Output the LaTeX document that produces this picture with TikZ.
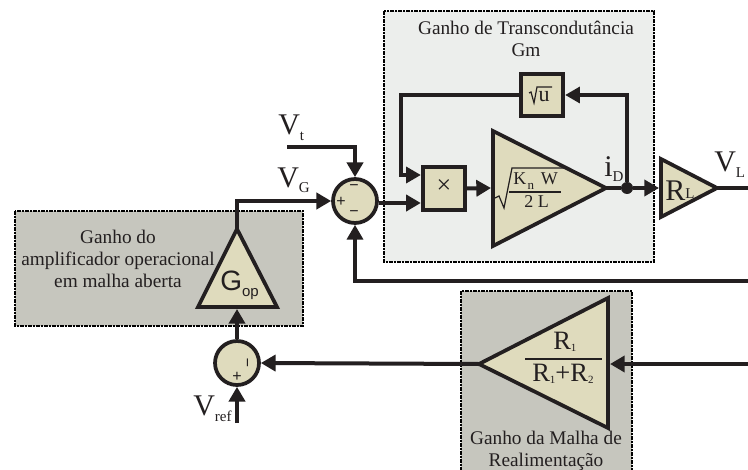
\documentclass[tikz,border=0pt]{standalone}
\usepackage{fontspec}
\setmainfont{Liberation Serif}
\newfontfamily\arialf{Liberation Sans}
\usetikzlibrary{arrows.meta}
\definecolor{ink}{HTML}{231F20}
\definecolor{tan}{HTML}{DFDBBD}
\definecolor{grayzone}{HTML}{C6C6BE}
\definecolor{lightzone}{HTML}{ECEEEC}
% sizes are given in reference pixels: 1px = 0.75pt
\newcommand{\fs}[1]{\fontsize{\dimexpr #1pt*3/4\relax}{\dimexpr #1pt*87/100\relax}\selectfont}
\newcommand{\bigsub}[3]{{\fs{30}#1}\kern#3\raisebox{-4.5pt}{\fs{15}#2}}
\tikzset{
  x=0.75pt,y=-0.75pt,
  wire/.style={draw=ink,line width=3pt,line join=miter},
  thinwire/.style={draw=ink,line width=2.4pt,line join=miter},
  arrowwire/.style={wire,-{Triangle[length=11pt,width=12pt]}},
  arrowthin/.style={thinwire,-{Triangle[length=11pt,width=12pt]}},
  zone/.style={draw=black,line width=1.1pt,dash pattern=on 3pt off 1pt on 1pt off 1pt},
  block/.style={draw=ink,fill=tan,line width=2.8pt,line join=miter},
  boxblock/.style={block,rectangle,inner sep=0pt,minimum size=32pt},
  sumblock/.style={block,circle,inner sep=0pt,minimum size=33pt},
  caption/.style={text=ink,align=center,inner sep=0pt,font=\fs{19.3}},
  lab/.style={text=ink,inner sep=0pt,anchor=base west},
  sign/.style={text=ink,inner sep=0pt,font=\arialf\fs{16}},
}
\begin{document}
\begin{tikzpicture}
\useasboundingbox (0,0) rectangle (748,470);
% zones
\fill[white] (0,0) rectangle (748,470);
\path[zone,fill=grayzone] (15,211) rectangle (303,326);
\path[zone,fill=lightzone] (384,11) rectangle (654,262);
\path[zone,fill=grayzone] (461,291) rectangle (632,472);
% captions
\node[caption] (capop) at (118,259) {Ganho do\\amplificador operacional\\em malha aberta};
\node[caption] (capgm) at (526,39) {Ganho de Transcondutância\\Gm};
\node[caption] (capfb) at (546,451) {Ganho da Malha de\\Realimentação};
% triangle corners
\coordinate (gopT) at (237,229);
\coordinate (gopL) at (198,307);
\coordinate (gopR) at (277,307);
\coordinate (gopB) at (237,309);
\coordinate (gmTop) at (493,131);
\coordinate (gmBot) at (493,246);
\coordinate (gmIn) at (491,188);
\coordinate (gmTip) at (606,188);
\coordinate (rlTop) at (661,159);
\coordinate (rlBot) at (661,217);
\coordinate (rlIn) at (659,188);
\coordinate (rlTip) at (717,188);
\coordinate (fbTip) at (479,364);
\coordinate (fbTop) at (608,298);
\coordinate (fbBot) at (608,428);
\coordinate (fbIn) at (610,364);
% free ends
\coordinate (vtS) at (287,147);
\coordinate (vrefS) at (237,423);
\coordinate (vlE) at (748,188);
\coordinate (fbE) at (748,364);
\coordinate (lowE) at (748,281);
% blocks
\node[sumblock] (sumA) at (355,201) {};
\node[sumblock] (sumB) at (237,363) {};
\node[boxblock] (mult) at (444,188.5) {};
\node[boxblock] (root) at (542,95) {};
\node[circle,fill=ink,inner sep=0pt,minimum size=9pt] (dot) at (627,188) {};
% connectors
\draw[arrowwire] (vtS) -- (sumA.north |- vtS) -- (sumA.north);
\draw[arrowwire] (gopT) |- (sumA.west);
\draw[arrowthin] (lowE) -| (sumA.south);
\draw[arrowwire] (sumB.north) -- (gopB);
\draw[arrowwire] (vrefS) -- (sumB.south);
\draw[arrowwire] (fbTip) -- (sumB.east);
\draw[arrowwire] (fbE) -- (fbIn);
\draw[arrowwire] (sumA.east |- 0,203) -- (mult.west |- 0,203);
\draw[arrowwire] (mult.east) -- (gmIn);
\draw[wire] (gmTip) -- (dot);
\draw[arrowwire] (dot) -- (rlIn);
\draw[wire] (rlTip) -- (vlE);
\draw[arrowthin] (dot) |- (root.east);
\draw[arrowthin] (root.west) -- (401,95) |- (mult.west |- 0,175);
% triangles
\path[block] (gopT) -- (gopR) -- (gopL) -- cycle;
\path[block] (gmTop) -- (gmTip) -- (gmBot) -- cycle;
\path[block] (rlTop) -- (rlTip) -- (rlBot) -- cycle;
\path[block] (fbTip) -- (fbTop) -- (fbBot) -- cycle;
% signs
\node[sign] (sa1) at (354,188) {−};
\node[sign] (sa2) at (341,202) {+};
\node[sign] (sa3) at (354,214) {−};
\node[sign] (sb1) at (237,377) {+};
\node[sign,rotate=90] (sb2) at (250,363) {−};
% labels
\node[lab] (lvt) at (278,135) {\bigsub{V}{t}{0pt}};
\node[lab] (lvg) at (277,187) {\bigsub{V}{G}{0pt}};
\node[lab] (lvr) at (193,415) {\bigsub{V}{ref}{0pt}};
\node[lab] (lvl) at (714,172) {\bigsub{V}{L}{0pt}};
\node[lab] (lid) at (604,176) {\bigsub{i}{D}{0pt}};
\node[lab] (lrl) at (665,200) {{\fs{30}R}\raisebox{1pt}{\fs{15}L}};
\node[lab,font=\arialf] (lgop) at (220,290) {\fs{28}G\kern0pt\raisebox{-5pt}{\fs{15}op}};
\node[text=ink,inner sep=0pt,font=\fs{26}] (times) at (444,187) {×};
\node[text=ink,inner sep=0pt,anchor=base,font=\fs{22}] (lu) at (544,102) {u};
\draw[ink,line width=0.9pt] (529,93) -- (531,92) -- (534,103) -- (537,87) -- (552,87);
% big gain
\draw[ink,line width=0.9pt] (495,198) -- (499,196) -- (504,208) -- (512,168) -- (564,168);
\draw[ink,line width=0.9pt] (509,192) -- (561,192);
\node[lab] (lkn) at (513,185) {\fs{18}K\kern1pt\raisebox{-3.5pt}{\fs{13}n}\kern5pt W};
\node[lab] (l2l) at (524,207) {\fs{18}2 L};
% feedback gain
\draw[ink,line width=0.9pt] (525,359) -- (602,359);
\node[lab] (lr1) at (553,349) {\fs{26.5}R\raisebox{-2pt}{\fs{11}1}};
\node[lab] (lr2) at (532,381) {\fs{26.5}R\raisebox{-2pt}{\fs{11}1}+R\raisebox{-2pt}{\fs{11}2}};
\end{tikzpicture}
\end{document}
